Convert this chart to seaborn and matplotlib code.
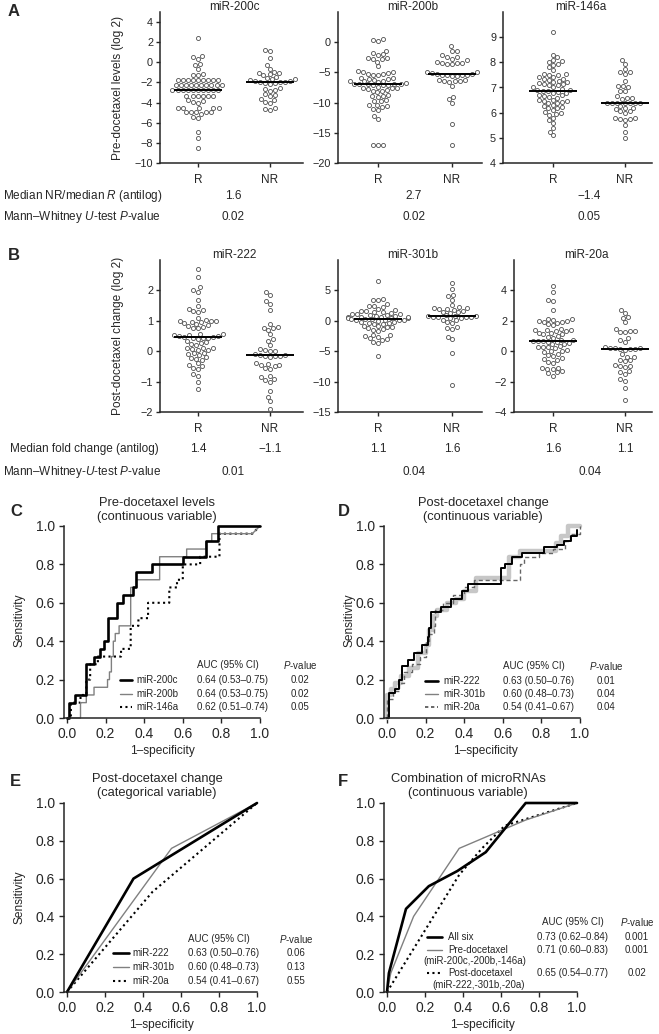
import numpy as np
import pandas as pd
import matplotlib
matplotlib.use("Agg")
import matplotlib.pyplot as plt
import seaborn as sns
from matplotlib.lines import Line2D

sns.set_style("ticks")
plt.rcParams["font.family"] = ["Liberation Sans", "DejaVu Sans"]
plt.rcParams["mathtext.fontset"] = "custom"
plt.rcParams["mathtext.rm"] = "Liberation Sans"
plt.rcParams["mathtext.it"] = "Liberation Sans:italic"

# ---------------- DATA ----------------
groups = ["R", "NR"]

mir200c_R = [2.4, 0.6, 0.5, 0.3, -0.2, -0.3, -0.7, -1.2, -1.3, -1.3,
             -1.8, -1.8, -1.8, -1.8, -1.8, -1.8, -1.8, -1.8, -1.8,
             -2.3, -2.3, -2.3, -2.3, -2.3, -2.3, -2.3, -2.3, -2.3, -2.3,
             -2.75, -2.75, -2.75, -2.75, -2.75, -2.75, -2.75, -2.75, -2.75, -2.75,
             -3.3, -3.3, -3.3, -3.3, -3.3, -3.3,
             -3.7, -3.85, -4.0, -3.9,
             -4.5, -4.5, -4.5, -4.5, -4.5,
             -4.9, -4.9, -4.9, -4.9, -4.9,
             -5.1, -5.5, -5.4, -6.9, -7.5, -8.5]
mir200c_NR = [1.2, 1.1, 0.4, -0.3, -0.7, -0.95, -1.1, -1.05, -1.2, -1.25, -1.5, -1.6, -1.65, -1.7,
              -1.8, -1.85, -1.9, -1.95, -2.0, -2.05, -2.1, -2.0, -2.15,
              -2.5, -2.6, -2.7, -2.8, -3.1, -3.2, -3.3, -3.6, -3.7, -3.9, -4.0, -4.6, -4.7, -4.55]

mir200b_R = [0.5, 0.2, 0.4, -1.4, -1.8, -2.0, -2.1, -2.65, -2.75, -2.85, -2.55, -3.2, -4.0,
             -4.75, -4.9, -5.0,
             -5.3, -5.15, -5.45, -5.25, -5.35,
             -5.95, -6.1, -5.85, -6.05, -6.2,
             -6.45, -6.6, -6.5, -6.35, -6.7,
             -6.85, -7.0, -7.1, -6.95, -6.9, -7.05, -7.15, -7.0,
             -7.45, -7.6, -7.5, -7.7, -7.55,
             -8.0, -8.1, -8.25, -7.9,
             -8.8, -8.9, -9.05, -8.95,
             -9.6, -9.8, -9.7,
             -10.35, -10.5, -10.65, -10.45,
             -11.0, -11.2, -12.2, -12.7,
             -17.1, -17.1, -17.1]
mir200b_NR = [-0.7, -1.4, -1.5, -2.2, -2.4, -2.5, -2.7, -3.0, -3.4, -3.5, -3.3, -3.6, -3.45, -3.55,
              -5.0, -5.1, -5.2, -4.95, -5.3, -5.4, -5.5, -5.6, -5.45, -5.35, -5.65,
              -6.3, -6.4, -6.5, -6.25, -6.45, -6.55, -7.2, -9.1, -9.4, -10.0, -13.5, -17.1]

mir146a_R = [9.2, 8.3, 8.2, 8.1, 8.0, 8.05, 7.9, 7.95, 7.8, 7.7,
             7.5, 7.55, 7.4, 7.48, 7.42, 7.52,
             7.3, 7.33, 7.2, 7.27, 7.22, 7.35, 7.18,
             7.1, 7.12, 7.0, 7.08, 7.02, 7.14,
             6.9, 6.92, 6.88, 6.8, 6.95, 6.83, 6.86, 6.78,
             6.7, 6.6, 6.72, 6.63, 6.68,
             6.5, 6.4, 6.43, 6.52, 6.38, 6.45, 6.48,
             6.2, 6.22, 6.3, 6.18, 6.1, 6.25,
             6.0, 5.9, 6.02, 5.95,
             5.8, 5.7, 5.6, 5.4, 5.25, 5.1]
mir146a_NR = [8.1, 7.95, 7.75, 7.6, 7.6, 7.55, 7.25, 7.05, 7.05, 7.0, 6.85, 6.85,
              6.65, 6.6, 6.6, 6.55,
              6.4, 6.4, 6.4, 6.4, 6.4, 6.4, 6.4,
              6.25, 6.2, 6.2, 6.15, 6.05, 6.0, 6.05,
              5.8, 5.75, 5.8, 5.75, 5.7, 5.5, 5.25, 5.0]

mir222_R = [2.7, 2.45, 2.1, 2.0, 1.95, 1.7, 1.5, 1.4, 1.35, 1.3, 1.32, 1.1,
            1.0, 0.98, 0.95, 1.02, 0.93, 0.9, 0.96, 0.99,
            0.8, 0.75, 0.82, 0.85, 0.77,
            0.55, 0.5, 0.57, 0.52, 0.48, 0.54, 0.5,
            0.45, 0.43, 0.4, 0.46, 0.44,
            0.3, 0.25, 0.2, 0.27, 0.32,
            0.1, 0.05, 0.12, 0.07, 0.09, 0.03,
            -0.05, -0.1, -0.07, -0.12,
            -0.2, -0.25, -0.22, -0.3,
            -0.4, -0.45, -0.5,
            -0.55, -0.6, -0.75, -0.8, -1.0, -1.25]
mir222_NR = [1.95, 1.85, 1.65, 1.55, 1.35, 0.9, 0.8, 0.75, 0.7, 0.77, 0.55, 0.4, 0.35, 0.2,
             0.05, 0.0, 0.02, 0.06,
             -0.15, -0.13, -0.1, -0.2, -0.16, -0.17, -0.11,
             -0.4, -0.45, -0.5, -0.47, -0.42, -0.55, -0.57,
             -0.85, -0.8, -0.9, -1.0, -0.95, -1.3, -1.5, -1.65, -1.9]

mir301b_R = [6.5, 3.6, 3.5, 3.4, 2.7, 2.4, 2.0, 2.2, 2.5,
             1.7, 1.5, 1.4, 1.55, 1.65, 1.3,
             1.1, 0.9, 1.0, 1.2, 0.85, 1.05, 0.8,
             0.65, 0.6, 0.5, 0.4, 0.55, 0.7, 0.45,
             0.25, 0.3, 0.1, 0.2, 0.15, 0.05, 0.35, 0.0,
             -0.3, -0.15, -0.45, -0.35, -0.25, -0.55,
             -0.9, -1.0, -1.15, -1.05, -0.8,
             -1.5, -1.7, -1.4,
             -2.4, -2.6, -2.5, -2.3,
             -3.0, -3.1, -2.9,
             -3.5, -3.6, -5.8]
mir301b_NR = [6.2, 5.2, 4.3, 4.0, 3.5, 2.6, 2.1, 2.0, 1.85, 1.9, 2.25, 2.15, 1.4, 1.3, 1.5, 1.6,
              0.8, 0.6, 0.75, 0.55, 0.5, 0.9, 0.65, 0.7, 0.85, 0.45,
              0.2, 0.1, -0.3, -0.2,
              -1.2, -1.0, -1.3, -2.6, -3.0, -5.3, -10.5]

mir20a_R = [4.3, 3.9, 3.4, 3.3, 2.7, 2.1, 2.0, 1.9, 2.05, 1.95, 2.12, 1.88, 2.0, 1.8, 1.7,
            1.4, 1.45, 1.3, 1.38, 1.33, 1.42,
            1.2, 1.1, 1.23, 1.13, 1.0, 0.95, 0.9,
            0.7, 0.72, 0.65, 0.75, 0.6, 0.68, 0.63,
            0.5, 0.45, 0.52,
            0.3, 0.25, 0.2, 0.27, 0.33,
            0.0, -0.05, 0.02, 0.05,
            -0.25, -0.2, -0.3,
            -0.5, -0.55, -0.48,
            -0.7, -0.75,
            -1.1, -1.15, -1.2, -1.08,
            -1.3, -1.4, -1.45, -1.6]
mir20a_NR = [2.7, 2.5, 2.25, 2.2, 1.9, 1.45, 1.3, 1.32, 1.28, 1.25, 0.85, 0.75, 0.6,
             0.25, 0.2, 0.22, 0.15, 0.17, 0.1, 0.13, 0.19,
             -0.2, -0.35, -0.4, -0.6, -0.55, -0.65,
             -0.9, -1.0, -0.95, -1.05, -1.3, -1.5, -1.4, -1.8, -1.95, -2.4, -3.2]

# summary rows
pre_median_ratio = ["1.6", "2.7", "\u22121.4"]
pre_pvalues = ["0.02", "0.02", "0.05"]
post_fold_R = ["1.4", "1.1", "1.6"]
post_fold_NR = ["\u22121.1", "1.6", "1.1"]
post_pvalues = ["0.01", "0.04", "0.04"]

# ROC: panel C (step curves: x where the curve jumps, tpr after jump)
rocC_200c_x = [0, 0.01, 0.04, 0.10, 0.14, 0.17, 0.19, 0.21, 0.26, 0.29, 0.34, 0.36, 0.44, 0.60, 0.72, 0.78, 1.0]
rocC_200c_y = [0, 0.08, 0.12, 0.28, 0.32, 0.36, 0.40, 0.52, 0.60, 0.64, 0.68, 0.76, 0.80, 0.84, 0.92, 1.0, 1.0]
rocC_200b_x = [0, 0.07, 0.10, 0.14, 0.21, 0.22, 0.23, 0.24, 0.25, 0.27, 0.33, 0.36, 0.48, 0.62, 0.72, 0.75, 0.96]
rocC_200b_y = [0, 0.08, 0.12, 0.16, 0.20, 0.24, 0.32, 0.40, 0.44, 0.48, 0.68, 0.72, 0.84, 0.88, 0.92, 0.96, 0.96]
rocC_146a_x = [0, 0.02, 0.07, 0.10, 0.12, 0.16, 0.28, 0.33, 0.37, 0.42, 0.53, 0.57, 0.60, 0.69, 0.79, 0.96]
rocC_146a_y = [0, 0.08, 0.12, 0.20, 0.28, 0.32, 0.36, 0.48, 0.52, 0.60, 0.68, 0.72, 0.80, 0.84, 0.96, 0.96]

# ROC: panel D
rocD_222_x = [0, 0.01, 0.04, 0.06, 0.08, 0.11, 0.14, 0.18, 0.21, 0.22, 0.23, 0.28, 0.33, 0.39, 0.42,
              0.59, 0.61, 0.65, 0.70, 0.815, 0.88, 0.915, 0.955, 0.985]
rocD_222_y = [0, 0.13, 0.15, 0.20, 0.27, 0.30, 0.34, 0.38, 0.42, 0.47, 0.55, 0.58, 0.62, 0.66, 0.70,
              0.78, 0.80, 0.84, 0.86, 0.89, 0.90, 0.92, 0.95, 0.98]
rocD_301b_x = [0, 0.0, 0.02, 0.04, 0.07, 0.115, 0.16, 0.20, 0.22, 0.24, 0.26, 0.31, 0.36, 0.40, 0.46,
               0.63, 0.69, 0.875, 0.90, 0.94, 1.0]
rocD_301b_y = [0, 0.12, 0.15, 0.18, 0.22, 0.26, 0.34, 0.38, 0.46, 0.53, 0.56, 0.60, 0.62, 0.66, 0.73,
               0.84, 0.87, 0.91, 0.95, 1.0, 1.0]
rocD_20a_x = [0, 0.0, 0.03, 0.06, 0.09, 0.13, 0.17, 0.20, 0.22, 0.245, 0.25, 0.29, 0.34, 0.40, 0.45,
              0.69, 0.71, 0.79, 0.86, 0.92, 0.95, 1.0]
rocD_20a_y = [0, 0.10, 0.14, 0.18, 0.24, 0.28, 0.32, 0.40, 0.44, 0.48, 0.56, 0.60, 0.64, 0.68, 0.72,
              0.80, 0.84, 0.86, 0.88, 0.92, 0.96, 1.0]

# ROC: panel E (categorical)
rocE_222_x = [0, 0.35, 1.0]
rocE_222_y = [0, 0.60, 1.0]
rocE_301b_x = [0, 0.55, 1.0]
rocE_301b_y = [0, 0.76, 1.0]
rocE_20a_x = [0, 0.45, 1.0]
rocE_20a_y = [0, 0.53, 1.0]

# ROC: panel F (combinations)
rocF_all_x = [0, 0.01, 0.10, 0.22, 0.37, 0.52, 0.73, 1.0]
rocF_all_y = [0, 0.10, 0.44, 0.56, 0.64, 0.74, 1.0, 1.0]
rocF_pre_x = [0, 0.02, 0.14, 0.38, 0.73, 1.0]
rocF_pre_y = [0, 0.10, 0.40, 0.76, 0.91, 1.0]
rocF_post_x = [0, 0.38, 0.50, 0.62, 1.0]
rocF_post_y = [0, 0.62, 0.76, 0.88, 1.0]

legC = [("miR-200c", "0.64 (0.53\u20130.75)", "0.02"),
        ("miR-200b", "0.64 (0.53\u20130.75)", "0.02"),
        ("miR-146a", "0.62 (0.51\u20130.74)", "0.05")]
legD = [("miR-222", "0.63 (0.50\u20130.76)", "0.01"),
        ("miR-301b", "0.60 (0.48\u20130.73)", "0.04"),
        ("miR-20a", "0.54 (0.41\u20130.67)", "0.04")]
legE = [("miR-222", "0.63 (0.50\u20130.76)", "0.06"),
        ("miR-301b", "0.60 (0.48\u20130.73)", "0.13"),
        ("miR-20a", "0.54 (0.41\u20130.67)", "0.55")]
legF = [("All six", "0.73 (0.62\u20130.84)", "0.001"),
        ("Pre-docetaxel", "0.71 (0.60\u20130.83)", "0.001"),
        ("Post-docetaxel", "0.65 (0.54\u20130.77)", "0.02")]

# ---------------- FIGURE ----------------
W, H = 659, 1034
fig = plt.figure(figsize=(W / 100, H / 100), dpi=100)


def rect(x0, y0, x1, y1):
    return [x0 / W, 1 - y1 / H, (x1 - x0) / W, (y1 - y0) / H]


def ftext(x, y, s, **kw):
    kw.setdefault("va", "center")
    fig.text(x / W, 1 - y / H, s, **kw)


def fline(x0, x1, y, **kw):
    fig.add_artist(Line2D([x0 / W, x1 / W], [1 - y / H, 1 - y / H], transform=fig.transFigure, **kw))


def dotpanel(x0, x1, y0, y1, rpos, nrpos, r_vals, nr_vals, title, ylim, yticks):
    ax = fig.add_axes(rect(x0, y0, x1, y1))
    df = pd.DataFrame({"grp": ["R"] * len(r_vals) + ["NR"] * len(nr_vals),
                       "val": list(r_vals) + list(nr_vals)})
    sp = nrpos - rpos
    ax.set_xlim(-(rpos - x0) / sp, 1 + (x1 - nrpos) / sp)
    sns.swarmplot(data=df, x="grp", y="val", order=groups, ax=ax, size=2.9,
                  color="white", edgecolor="0.3", linewidth=0.6, warn_thresh=1)
    for i, v in enumerate([r_vals, nr_vals]):
        ax.hlines(np.median(v), i - 0.33, i + 0.33, color="black", lw=1.4, zorder=5)
    ax.set_xlim(-(rpos - x0) / sp, 1 + (x1 - nrpos) / sp)
    ax.set_ylim(*ylim)
    ax.set_yticks(yticks)
    ax.set_xticks([0, 1], groups)
    ax.set_xlabel("")
    ax.set_ylabel("")
    sns.despine(ax=ax)
    for s in ["left", "bottom"]:
        ax.spines[s].set_linewidth(1.1)
    ax.tick_params(axis="y", length=3, width=1, labelsize=7.8, pad=2)
    ax.tick_params(axis="x", length=3, width=1, labelsize=8.5, pad=5)
    ftext((x0 + x1) / 2 + 3, y0 - 5, title, ha="center", fontsize=8.5)
    return ax


# Panel A
ftext(8, 12, "A", fontsize=12, fontweight="bold", ha="left")
dotpanel(160, 303, 12, 163, 198, 270, mir200c_R, mir200c_NR, "miR-200c", (-10, 5), range(-10, 5, 2))
dotpanel(338, 482, 12, 163, 378, 452, mir200b_R, mir200b_NR, "miR-200b", (-20, 5), range(-20, 1, 5))
dotpanel(503, 652, 12, 163, 553, 625, mir146a_R, mir146a_NR, "miR-146a", (4, 10), range(4, 10))
ftext(118, 88, "Pre-docetaxel levels (log 2)", rotation=90, ha="center", fontsize=8.6)
ftext(3, 196, "Median NR/median $R$ (antilog)", ha="left", fontsize=8.5)
ftext(3, 217, "Mann\u2013Whitney $U$-test $P$-value", ha="left", fontsize=8.5)
for xc, a, b in zip([233, 414, 589], pre_median_ratio, pre_pvalues):
    ftext(xc, 196, a, ha="center", fontsize=8.5)
    ftext(xc, 217, b, ha="center", fontsize=8.5)

# Panel B
ftext(8, 256, "B", fontsize=12, fontweight="bold", ha="left")
dotpanel(160, 303, 260, 412, 198, 270, mir222_R, mir222_NR, "miR-222", (-2, 3), range(-2, 3))
dotpanel(338, 482, 260, 412, 378, 452, mir301b_R, mir301b_NR, "miR-301b", (-15, 10), range(-15, 6, 5))
dotpanel(514, 652, 260, 412, 553, 625, mir20a_R, mir20a_NR, "miR-20a", (-4, 6), range(-4, 5, 2))
ftext(118, 336, "Post-docetaxel change (log 2)", rotation=90, ha="center", fontsize=8.6)
ftext(10, 449, "Median fold change (antilog)", ha="left", fontsize=8.5)
ftext(3, 472, "Mann\u2013Whitney-$U$-test $P$-value", ha="left", fontsize=8.5)
for (rx, nx), a, b in zip([(198, 270), (378, 452), (553, 625)], post_fold_R, post_fold_NR):
    ftext(rx, 449, a, ha="center", fontsize=8.5)
    ftext(nx, 449, b, ha="center", fontsize=8.5)
for xc, p in zip([233, 414, 590], post_pvalues):
    ftext(xc, 472, p, ha="center", fontsize=8.5)


def step_xy(xs, ys, diag_end=False):
    vx, vy = [xs[0]], [ys[0]]
    n = len(xs)
    for i in range(1, n):
        vx += [xs[i], xs[i]]
        vy += [ys[i - 1], ys[i]]
    if diag_end:
        vx.append(1.0)
        vy.append(1.0)
    return vx, vy


def rocaxes(x0, x1, y0, y1):
    ax = fig.add_axes(rect(x0 - 3, y0, x1, y1))
    ax.set_xlim(-3 / (x1 - x0), 1.0)
    ax.set_ylim(0, 1.0)
    ticks = [0, 0.2, 0.4, 0.6, 0.8, 1.0]
    ax.set_xticks(ticks, ["%.1f" % t for t in ticks])
    ax.set_yticks(ticks, ["%.1f" % t for t in ticks])
    sns.despine(ax=ax)
    for s in ["left", "bottom"]:
        ax.spines[s].set_linewidth(1.1)
    ax.tick_params(length=3.5, width=1, labelsize=10, pad=3)
    return ax


def roc_line(ax, x, y, **kw):
    sns.lineplot(x=x, y=y, sort=False, estimator=None, ax=ax, clip_on=False, **kw)


def legend_table(rows, styles, hx, rows_y, line_x, lab_x, auc_x, p_x, fs=7):
    ftext(auc_x, hx, "AUC (95% CI)", ha="left", fontsize=fs)
    ftext(p_x, hx, "$P$-value", ha="center", fontsize=fs)
    for (lab, auc, p), st, yy in zip(rows, styles, rows_y):
        fline(line_x[0], line_x[1], yy, **st)
        ftext(lab_x, yy, lab, ha="left", fontsize=fs)
        ftext(auc_x, yy, auc, ha="left", fontsize=fs)
        ftext(p_x, yy, p, ha="center", fontsize=fs)


# styles
blk = dict(color="black", lw=1.9)
gry = dict(color="0.5", lw=1.0)
dot = dict(color="black", lw=1.5, linestyle=(0, (1, 1.6)))

# Panel C
ftext(10, 512, "C", fontsize=12, fontweight="bold", ha="left")
ftext(157, 510, "Pre-docetaxel levels\n(continuous variable)", ha="center", fontsize=9.3, linespacing=1.2)
axC = rocaxes(67, 260, 526, 718)
roc_line(axC, *step_xy(rocC_146a_x, rocC_146a_y, True), **dot)
roc_line(axC, *step_xy(rocC_200b_x, rocC_200b_y, True), **gry)
roc_line(axC, *step_xy(rocC_200c_x, rocC_200c_y), **blk)
ftext(20, 620, "Sensitivity", rotation=90, ha="center", fontsize=8.6)
ftext(162, 751, "1\u2013specificity", ha="center", fontsize=8.6)
legend_table(legC, [blk, gry, dot], 665, [680, 694, 707], (120, 132), 136, 197, 300)

# Panel D
ftext(338, 512, "D", fontsize=12, fontweight="bold", ha="left")
ftext(483, 510, "Post-docetaxel change\n(continuous variable)", ha="center", fontsize=9.3, linespacing=1.2)
axD = rocaxes(387, 580, 526, 718)
roc_line(axD, *step_xy(rocD_301b_x, rocD_301b_y), color="0.78", lw=3.2)
roc_line(axD, *step_xy(rocD_20a_x, rocD_20a_y), color="0.4", lw=1.0, linestyle=(0, (3, 2)))
roc_line(axD, *step_xy(rocD_222_x, rocD_222_y), color="black", lw=1.4)
ftext(350, 620, "Sensitivity", rotation=90, ha="center", fontsize=8.6)
ftext(485, 751, "1\u2013specificity", ha="center", fontsize=8.6)
legend_table(legD, [dict(color="black", lw=1.9), gry, dict(color="0.3", lw=1.2, linestyle=(0, (2, 1.6)))],
             666, [681, 694, 707], (425, 438), 443, 503, 606)

# Panel E
ftext(10, 782, "E", fontsize=12, fontweight="bold", ha="left")
ftext(157, 786, "Post-docetaxel change\n(categorical variable)", ha="center", fontsize=9.3, linespacing=1.2)
axE = rocaxes(67, 257, 803, 992)
roc_line(axE, rocE_20a_x, rocE_20a_y, **dot)
roc_line(axE, rocE_301b_x, rocE_301b_y, **gry)
roc_line(axE, rocE_222_x, rocE_222_y, **blk)
ftext(20, 897, "Sensitivity", rotation=90, ha="center", fontsize=8.6)
ftext(161, 1025, "1\u2013specificity", ha="center", fontsize=8.6)
legend_table(legE, [blk, gry, dot], 939, [953, 967, 981], (113, 129), 132, 188, 296)

# Panel F
ftext(338, 782, "F", fontsize=12, fontweight="bold", ha="left")
ftext(468, 786, "Combination of microRNAs\n(continuous variable)", ha="center", fontsize=9.3, linespacing=1.2)
axF = rocaxes(387, 577, 803, 992)
roc_line(axF, rocF_post_x, rocF_post_y, **dot)
roc_line(axF, rocF_pre_x, rocF_pre_y, **gry)
roc_line(axF, rocF_all_x, rocF_all_y, **blk)
ftext(482, 1025, "1\u2013specificity", ha="center", fontsize=8.6)
ftext(542, 922, "AUC (95% CI)", ha="left", fontsize=7)
ftext(637, 922, "$P$-value", ha="center", fontsize=7)
for (lab, auc, p), st, yy in zip(legF, [blk, gry, dot], [937, 950, 973]):
    fline(427, 442, yy, **st)
    ftext(448, yy, lab, ha="left", fontsize=7)
    ftext(537, yy, auc, ha="left", fontsize=7)
    ftext(637, yy, p, ha="center", fontsize=7)
ftext(423, 961, "(miR-200c,-200b,-146a)", ha="left", fontsize=7)
ftext(432, 985, "(miR-222,-301b,-20a)", ha="left", fontsize=7)

fig.savefig("out.png", dpi=100)
